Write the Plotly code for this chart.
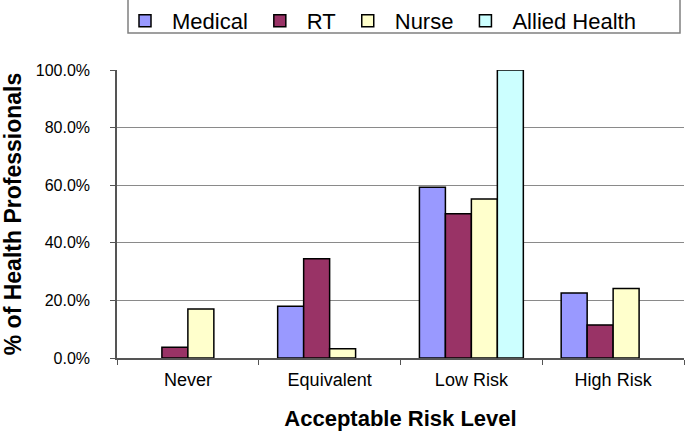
import plotly.graph_objects as go

categories = ["Never", "Equivalent", "Low Risk", "High Risk"]
medical = [0.0, 18.0, 59.3, 22.6]
rt = [3.7, 34.5, 50.1, 11.5]
nurse = [17.0, 3.2, 55.2, 24.1]
allied = [0.0, 0.0, 100.0, 0.0]
y_ticks = [0, 20, 40, 60, 80, 100]
y_tick_labels = ["0.0%", "20.0%", "40.0%", "60.0%", "80.0%", "100.0%"]

series = [
    ("Medical", medical, "#9999FF"),
    ("RT", rt, "#993366"),
    ("Nurse", nurse, "#FFFFCC"),
    ("Allied Health", allied, "#CCFFFF"),
]

FONT = "Liberation Sans, Arial, Helvetica, sans-serif"

fig = go.Figure()
for name, vals, color in series:
    fig.add_trace(go.Bar(
        x=categories, y=[v if v > 0 else None for v in vals], name=name,
        marker=dict(color=color, line=dict(color="black", width=1.5)),
    ))

L, R, T, B = 117, 1, 70, 73
W, H = 685, 431
pw = W - L - R
ph = H - T - B

fig.update_layout(
    width=W, height=H,
    margin=dict(l=L, r=R, t=T, b=B, autoexpand=False),
    paper_bgcolor="white", plot_bgcolor="white",
    barmode="group", bargap=0.267, bargroupgap=0,
    font=dict(family=FONT, color="black"),
    legend=dict(
        orientation="h", x=(118 - L) / pw, xanchor="left",
        y=1 + (T - 0) / ph, yanchor="top",
        font=dict(size=22, family=FONT), bgcolor="rgba(0,0,0,0)",
        borderwidth=0, itemwidth=44, tracegroupgap=0,
    ),
    showlegend=True,
)
fig.add_shape(type="rect", xref="paper", yref="paper",
              x0=(128 - L) / pw, x1=(680 - L) / pw,
              y0=1 + (T - 33) / ph, y1=1 + (T + 1) / ph,
              line=dict(color="#808080", width=1.5), fillcolor="rgba(0,0,0,0)", layer="below")

fig.update_xaxes(
    showline=True, linecolor="#555555", linewidth=1.5,
    ticks="outside", tickson="boundaries", ticklen=5, tickcolor="#555555",
    tickfont=dict(size=18), showgrid=False, ticklabelstandoff=5,
    title=dict(text="<b>Acceptable Risk Level</b>", font=dict(size=22), standoff=23),
)
fig.update_yaxes(
    range=[0, 100], tickvals=y_ticks, ticktext=y_tick_labels,
    showline=True, linecolor="#555555", linewidth=1.5,
    ticks="outside", ticklen=5, tickcolor="#555555",
    showgrid=True, gridcolor="#8a8a8a", gridwidth=1,
    tickfont=dict(size=16), zeroline=False, ticklabelstandoff=17,
    title=dict(text="<b>% of Health Professionals</b>", font=dict(size=23), standoff=11),
)

fig.write_html("out.html", config={"displayModeBar": False},
               post_script="document.body.style.margin='0';")
